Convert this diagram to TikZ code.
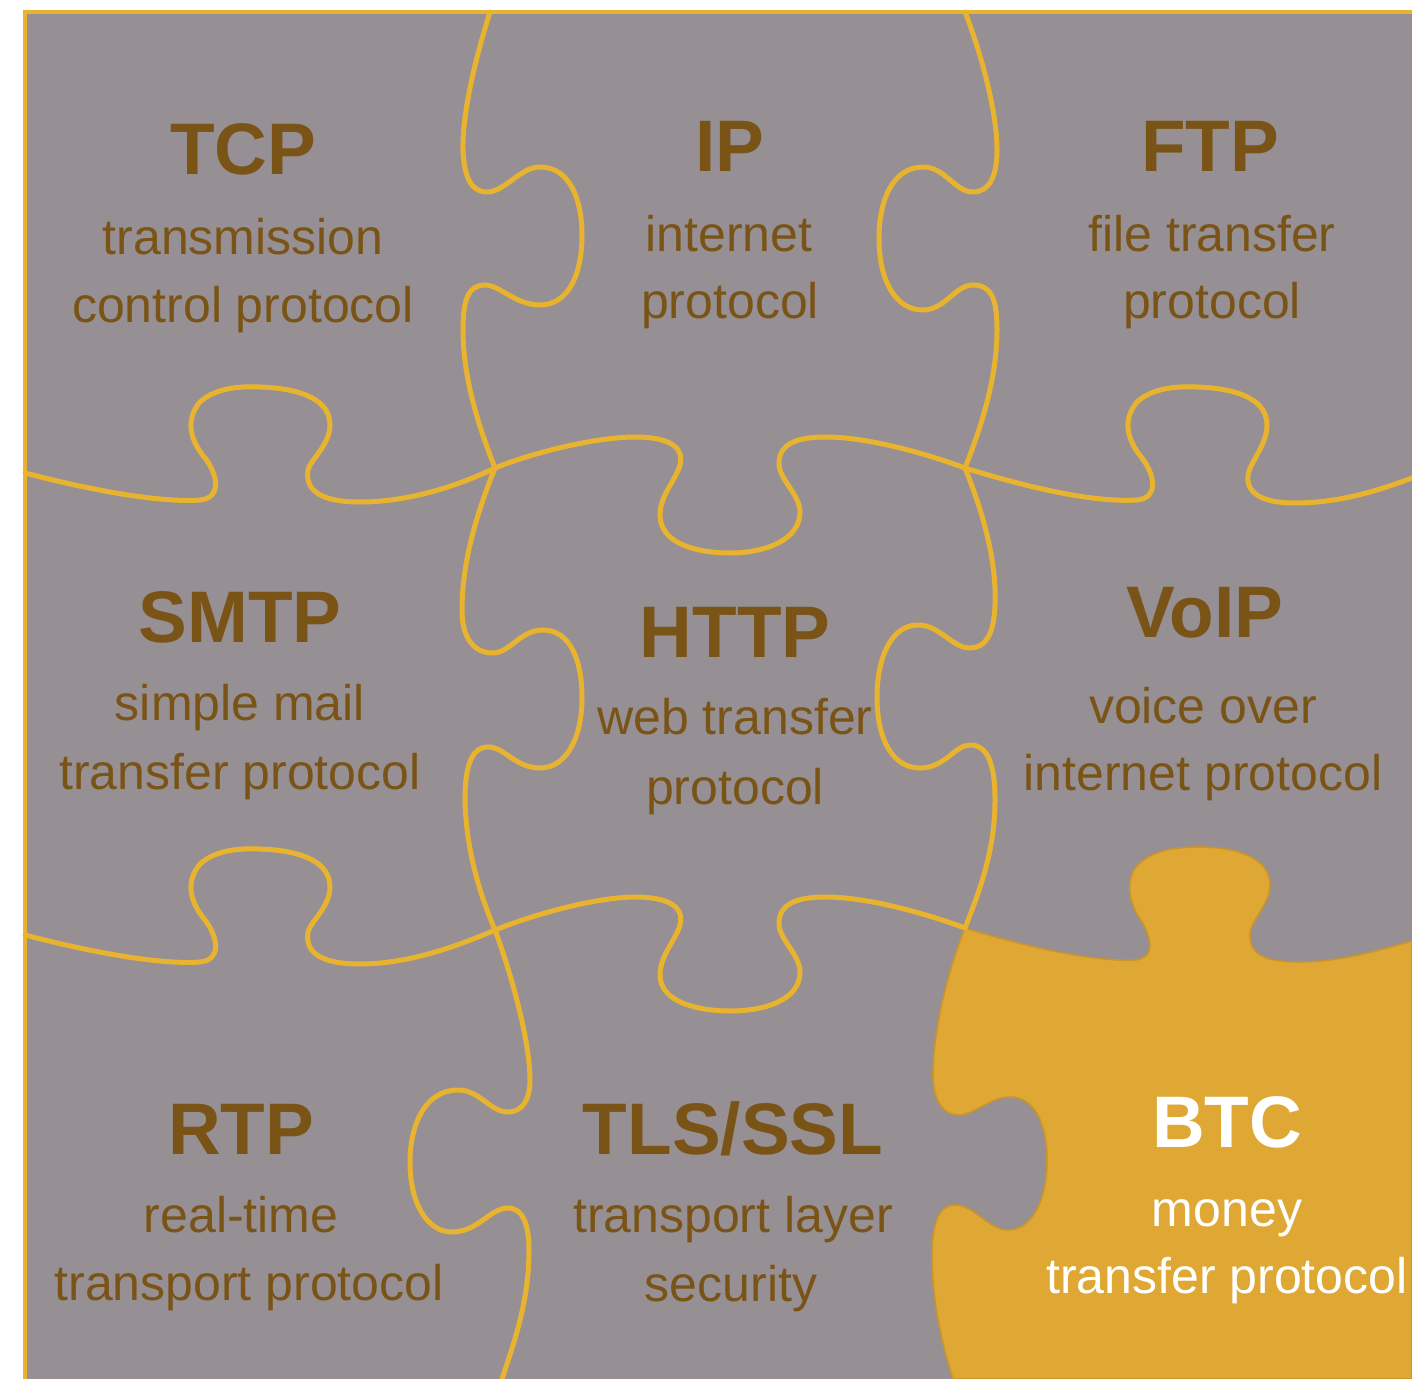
\documentclass[tikz,border=0pt]{standalone}
\usepackage{fontspec}
\setmainfont{Liberation Sans}
\usepackage{tikz}

\definecolor{tilegray}{HTML}{968F93}
\definecolor{seamgold}{HTML}{E8B430}
\definecolor{labelbrown}{HTML}{7A5417}
\definecolor{btcgold}{HTML}{DFA834}
\definecolor{btcedge}{HTML}{C9952C}

\begin{document}
\begin{tikzpicture}[x=0.5pt,y=-0.5pt,
    seam/.style={draw=seamgold,line width=2.5pt,line cap=round,line join=round},
    frame/.style={draw=seamgold,line width=1.6pt},
    title/.style={anchor=base,text=labelbrown,font=\fontsize{36.5}{40}\selectfont\bfseries},
    sub/.style={anchor=base,text=labelbrown,font=\fontsize{25}{30}\selectfont}]
    \useasboundingbox (0,0) rectangle (1412,1379) ;
    \clip (0,0) rectangle (1412,1379) ;
    \fill[tilegray] (25,12) rectangle (1412,1379) ;

    % the money piece
    \filldraw[fill=btcgold,draw=btcedge,line width=0.8pt] (965,928)
        .. controls (1020,945) and (1090,962) .. (1135,960)
        .. controls (1155,958) and (1152,940) .. (1142,922)
        .. controls (1130,905) and (1125,885) .. (1135,868)
        .. controls (1150,850) and (1175,847) .. (1200,847)
        .. controls (1230,847) and (1270,855) .. (1270,885)
        .. controls (1270,905) and (1250,920) .. (1250,935)
        .. controls (1250,955) and (1265,962) .. (1300,962)
        .. controls (1340,962) and (1380,950) .. (1412,941)
        -- (1412,1379) -- (953,1379)
        .. controls (942,1345) and (932,1300) .. (932,1255)
        .. controls (932,1225) and (938,1205) .. (955,1205)
        .. controls (975,1205) and (988,1230) .. (1008,1230)
        .. controls (1032,1230) and (1047,1200) .. (1047,1160)
        .. controls (1047,1125) and (1035,1097) .. (1010,1097)
        .. controls (990,1097) and (975,1115) .. (958,1115)
        .. controls (943,1115) and (933,1100) .. (933,1075)
        .. controls (933,1030) and (948,970) .. (965,928) -- cycle ;

    % outer frame
    \draw[frame] (1412,12) -- (25,12) -- (25,1379) ;

    % vertical seams
    \draw[seam] (490,12) .. controls (478,50) and (462,110) .. (463,150)
        .. controls (464,175) and (470,192) .. (487,192)
        .. controls (505,192) and (520,167) .. (540,167)
        .. controls (570,167) and (582,200) .. (582,235)
        .. controls (582,280) and (565,305) .. (540,305)
        .. controls (515,305) and (500,285) .. (485,285)
        .. controls (468,285) and (463,300) .. (463,330)
        .. controls (463,380) and (480,430) .. (495,468) ;
    \draw[seam] (965,12) .. controls (980,50) and (997,110) .. (997,150)
        .. controls (997,175) and (990,192) .. (973,192)
        .. controls (955,192) and (945,167) .. (923,167)
        .. controls (893,167) and (879,200) .. (879,238)
        .. controls (879,280) and (895,310) .. (923,310)
        .. controls (945,310) and (955,285) .. (973,285)
        .. controls (992,285) and (997,300) .. (997,330)
        .. controls (997,380) and (980,430) .. (965,468) ;
    \draw[seam] (495,468) .. controls (478,510) and (462,560) .. (462,610)
        .. controls (462,640) and (475,653) .. (493,653)
        .. controls (510,653) and (520,630) .. (543,630)
        .. controls (570,630) and (582,660) .. (582,698)
        .. controls (582,740) and (565,768) .. (540,768)
        .. controls (515,768) and (505,747) .. (488,747)
        .. controls (470,747) and (465,770) .. (465,800)
        .. controls (466,850) and (480,895) .. (495,930) ;
    \draw[seam] (965,468) .. controls (982,510) and (997,560) .. (995,605)
        .. controls (994,635) and (985,648) .. (970,648)
        .. controls (952,648) and (940,625) .. (918,625)
        .. controls (890,625) and (877,660) .. (877,697)
        .. controls (877,740) and (893,768) .. (920,768)
        .. controls (945,768) and (955,745) .. (970,745)
        .. controls (988,745) and (995,765) .. (995,800)
        .. controls (995,850) and (980,890) .. (965,928) ;
    \draw[seam] (495,930) .. controls (510,970) and (530,1040) .. (530,1080)
        .. controls (530,1100) and (522,1112) .. (508,1112)
        .. controls (490,1112) and (480,1090) .. (458,1090)
        .. controls (425,1090) and (410,1125) .. (410,1162)
        .. controls (410,1205) and (428,1232) .. (452,1232)
        .. controls (478,1232) and (490,1208) .. (508,1208)
        .. controls (523,1208) and (529,1225) .. (529,1250)
        .. controls (529,1300) and (515,1340) .. (502,1379) ;

    % horizontal seams
    \draw[seam] (25,473) .. controls (90,490) and (160,503) .. (200,500)
        .. controls (222,498) and (218,475) .. (205,458)
        .. controls (190,440) and (185,420) .. (200,402)
        .. controls (215,388) and (240,386) .. (260,387)
        .. controls (290,388) and (330,395) .. (330,425)
        .. controls (330,445) and (310,460) .. (308,470)
        .. controls (305,490) and (320,502) .. (360,502)
        .. controls (410,502) and (460,485) .. (495,468) ;
    \draw[seam] (495,468) .. controls (540,450) and (600,437) .. (635,437)
        .. controls (665,437) and (685,445) .. (680,465)
        .. controls (676,480) and (660,495) .. (660,515)
        .. controls (660,545) and (700,553) .. (730,553)
        .. controls (765,553) and (800,540) .. (800,512)
        .. controls (800,495) and (780,480) .. (779,465)
        .. controls (778,445) and (795,437) .. (825,437)
        .. controls (870,437) and (930,455) .. (965,468) ;
    \draw[seam] (965,468) .. controls (1020,485) and (1090,503) .. (1137,500)
        .. controls (1159,498) and (1155,475) .. (1142,458)
        .. controls (1127,440) and (1122,420) .. (1137,402)
        .. controls (1152,388) and (1177,386) .. (1197,387)
        .. controls (1227,388) and (1267,395) .. (1267,425)
        .. controls (1267,445) and (1250,462) .. (1248,475)
        .. controls (1246,492) and (1260,503) .. (1295,503)
        .. controls (1340,503) and (1380,490) .. (1412,478) ;
    \draw[seam] (25,935) .. controls (90,952) and (160,965) .. (200,962)
        .. controls (222,960) and (218,937) .. (205,920)
        .. controls (190,902) and (185,882) .. (200,864)
        .. controls (215,850) and (240,848) .. (260,849)
        .. controls (290,850) and (330,857) .. (330,887)
        .. controls (330,907) and (310,922) .. (308,932)
        .. controls (305,952) and (320,964) .. (360,964)
        .. controls (410,964) and (460,945) .. (495,930) ;
    \draw[seam] (495,930) .. controls (540,912) and (600,897) .. (635,897)
        .. controls (665,897) and (685,905) .. (680,925)
        .. controls (676,940) and (660,955) .. (660,975)
        .. controls (660,1003) and (700,1011) .. (730,1011)
        .. controls (765,1011) and (800,1000) .. (800,972)
        .. controls (800,955) and (780,940) .. (779,925)
        .. controls (778,905) and (795,897) .. (825,897)
        .. controls (870,897) and (930,915) .. (965,928) ;

    % labels
    \node[title] (tcp) at (243,175) {TCP} ;
    \node[sub] (tcpa) at (243,255) {transmission} ;
    \node[sub] (tcpb) at (243,323) {control protocol} ;

    \node[title] (ip) at (730,172) {IP} ;
    \node[sub] (ipa) at (729,252) {internet} ;
    \node[sub] (ipb) at (730,319) {protocol} ;

    \node[title] (ftp) at (1210,172) {FTP} ;
    \node[sub] (ftpa) at (1212,252) {file transfer} ;
    \node[sub] (ftpb) at (1212,319) {protocol} ;

    \node[title] (smtp) at (240,642) {SMTP} ;
    \node[sub] (smtpa) at (240,720) {simple mail} ;
    \node[sub] (smtpb) at (240,789) {transfer protocol} ;

    \node[title] (http) at (735,657) {HTTP} ;
    \node[sub] (httpa) at (735,734) {web transfer} ;
    \node[sub] (httpb) at (735,804) {protocol} ;

    \node[title] (voip) at (1205,637) {VoIP} ;
    \node[sub] (voipa) at (1203,723) {voice over} ;
    \node[sub] (voipb) at (1203,790) {internet protocol} ;

    \node[title] (rtp) at (241,1154) {RTP} ;
    \node[sub] (rtpa) at (241,1232) {real-time} ;
    \node[sub] (rtpb) at (249,1300) {transport protocol} ;

    \node[title] (tls) at (733,1154) {TLS/SSL} ;
    \node[sub] (tlsa) at (733,1232) {transport layer} ;
    \node[sub] (tlsb) at (731,1301) {security} ;

    \node[title,text=white] (btc) at (1227,1147) {BTC} ;
    \node[sub,text=white] (btca) at (1227,1226) {money} ;
    \node[sub,text=white] (btcb) at (1227,1293) {transfer protocol} ;
\end{tikzpicture}
\end{document}
